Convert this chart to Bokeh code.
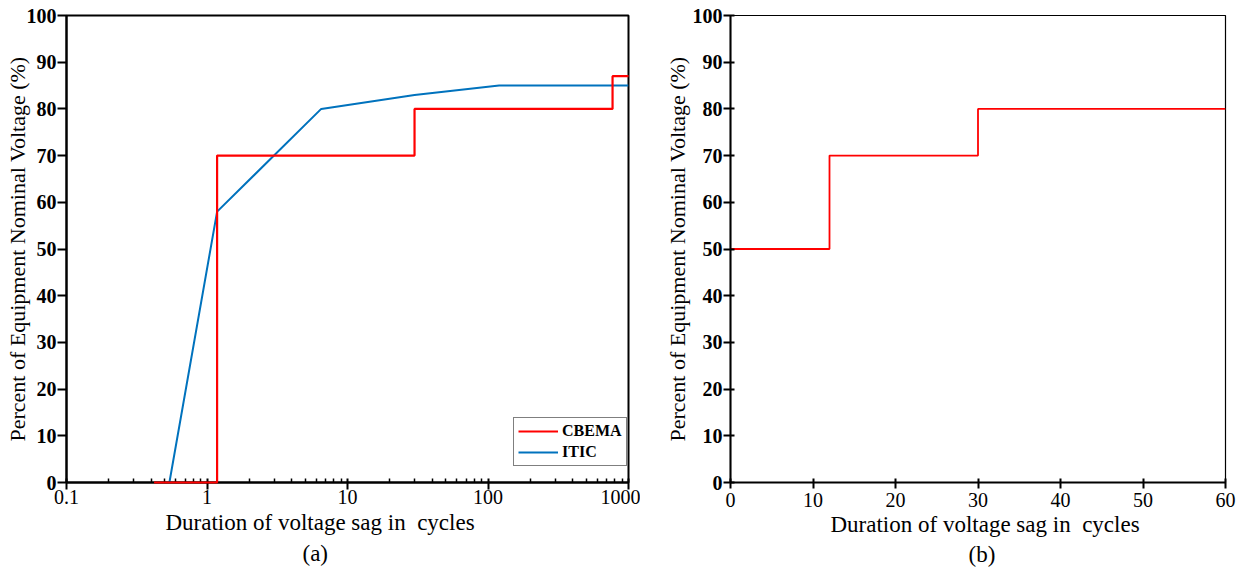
from bokeh.plotting import figure
from bokeh.layouts import row
from bokeh.models import FixedTicker, Title, Legend, LegendItem, Range1d
from bokeh.embed import file_html
from bokeh.resources import INLINE

# ---- data: panel (a) CBEMA / ITIC (duration in cycles, % nominal voltage)
cbema_cycles = [0.42, 1.18, 30, 770, 1000]
cbema_pct = [0, 70, 80, 87, 87]
itic_cycles = [0.54, 1.18, 6.5, 30, 120, 1000]
itic_pct = [0, 58, 80, 83, 85, 85]

# ---- data: panel (b)
sag_cycles = [0, 12, 30, 60]
sag_pct = [50, 70, 80, 80]

# ---- ticks
log_ticks = [0.1, 1, 10, 100, 1000]
log_tick_labels = ["0.1", "1", "10", "100", "1000"]
lin_x_ticks = [0, 10, 20, 30, 40, 50, 60]
pct_ticks = [0, 10, 20, 30, 40, 50, 60, 70, 80, 90, 100]

FONT = "Liberation Serif"
RED = "#ff0000"
BLUE = "#0072bd"
XLABEL = "Duration of voltage sag in\u00a0 cycles"
YLABEL = "Percent of Equipment Nominal Voltage (%)"


def style_common(p):
    p.grid.visible = False
    p.background_fill_color = "white"
    p.border_fill_color = "white"
    for ax in (p.xaxis[0], p.yaxis[0]):
        ax.axis_line_color = "black"
        ax.axis_line_width = 2
        ax.major_tick_line_color = "black"
        ax.major_tick_line_width = 2
        ax.minor_tick_line_color = "black"
        ax.minor_tick_line_width = 1.5
        ax.major_label_text_font = FONT
        ax.major_label_text_color = "black"
        ax.axis_label_text_font = FONT
        ax.axis_label_text_font_style = "normal"
        ax.axis_label_text_color = "black"
    yax = p.yaxis[0]
    yax.ticker = FixedTicker(ticks=pct_ticks, minor_ticks=[])
    yax.major_label_text_font_size = "20px"
    yax.major_label_text_font_style = "bold"
    yax.major_label_standoff = 1
    yax.axis_label = YLABEL
    yax.axis_label_text_font_size = "22px"
    xax = p.xaxis[0]
    xax.major_label_text_font_size = "20px"
    xax.major_label_standoff = 0


def add_bottom_titles(p, label_offset, label_standoff, tag, tag_offset, tag_standoff):
    t1 = Title(text=XLABEL, align="left", offset=label_offset, text_font=FONT,
               text_font_size="23px", text_font_style="normal",
               standoff=label_standoff, text_color="black")
    p.add_layout(t1, "below")
    t2 = Title(text=tag, align="left", offset=tag_offset, text_font=FONT,
               text_font_size="23px", text_font_style="normal",
               standoff=tag_standoff, text_color="black")
    p.add_layout(t2, "below")


# ---------------- panel (a)
p1 = figure(width=640, height=569, x_axis_type="log",
            x_range=Range1d(0.1, 1000), y_range=Range1d(0, 100),
            output_backend="svg", toolbar_location=None,
            min_border_left=66, min_border_right=12,
            min_border_top=15, min_border_bottom=87)
style_common(p1)
p1.outline_line_color = "black"
p1.outline_line_width = 2
p1.outline_line_alpha = 1

minor = [m * d for d in (0.1, 1, 10, 100) for m in range(2, 10)]
xa = p1.xaxis[0]
xa.ticker = FixedTicker(ticks=log_ticks, minor_ticks=minor)
xa.major_label_overrides = {t: s for t, s in zip(log_ticks, log_tick_labels)}
xa.major_tick_in = 4
xa.major_tick_out = 7
xa.minor_tick_in = 4
xa.minor_tick_out = 0
ya = p1.yaxis[0]
ya.major_tick_in = 0
ya.major_tick_out = 9
ya.axis_label_standoff = -6

r_itic = p1.line(itic_cycles, itic_pct, line_color=BLUE, line_width=2)
r_cbema = p1.step(cbema_cycles, cbema_pct, mode="after", line_color=RED, line_width=2.2,
                  level="overlay")

legend = Legend(items=[LegendItem(label="CBEMA", renderers=[r_cbema]),
                       LegendItem(label="ITIC", renderers=[r_itic])],
                location=(447, 16))
legend.label_text_font = FONT
legend.label_text_font_size = "16px"
legend.label_text_font_style = "bold"
legend.label_text_color = "black"
legend.border_line_color = "black"
legend.border_line_width = 1.5
legend.background_fill_color = "white"
legend.background_fill_alpha = 1
legend.padding = 4
legend.margin = 0
legend.spacing = 3
legend.glyph_width = 40
legend.glyph_height = 16
legend.label_height = 16
legend.label_standoff = 4
p1.add_layout(legend, "center")

add_bottom_titles(p1, 99, 2, "(a)", 236, 6)

# ---------------- panel (b)
p2 = figure(width=596, height=569,
            x_range=Range1d(0, 60), y_range=Range1d(0, 100),
            output_backend="svg", toolbar_location=None,
            min_border_left=90, min_border_right=11,
            min_border_top=15, min_border_bottom=87)
style_common(p2)
p2.outline_line_color = "black"
p2.outline_line_width = 1.2
p2.outline_line_alpha = 1

xb = p2.xaxis[0]
xb.ticker = FixedTicker(ticks=lin_x_ticks, minor_ticks=[])
xb.major_tick_in = 4
xb.major_tick_out = 6
xb.major_label_standoff = 4
yb = p2.yaxis[0]
yb.major_tick_in = 4
yb.major_tick_out = 7
yb.axis_label_standoff = 0

p2.step(sag_cycles, sag_pct, mode="after", line_color=RED, line_width=1.8)

add_bottom_titles(p2, 100, 0, "(b)", 238, 6)

layout = row(p1, p2)
open("out.html", "w").write(file_html(layout, INLINE))
